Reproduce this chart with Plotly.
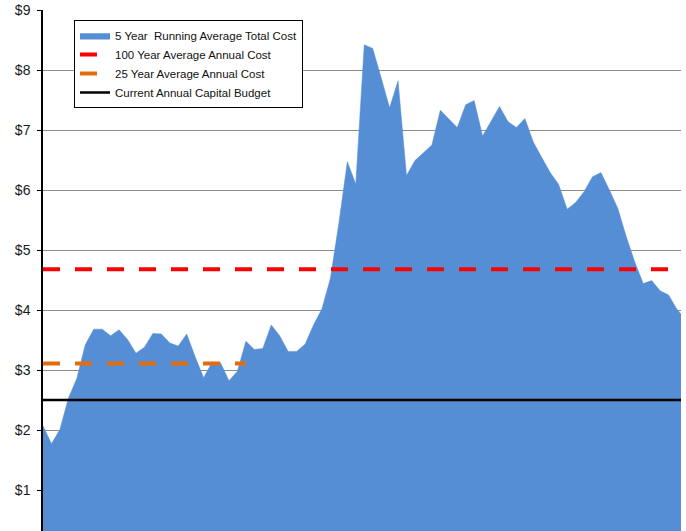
import plotly.graph_objects as go

# Year index along the horizontal axis
years = list(range(1, 78))

# 5-year running average of total cost ($ millions)
running_avg_cost = [
    2.07, 1.77, 2.01, 2.53, 2.86, 3.42, 3.68, 3.68, 3.57, 3.67,
    3.51, 3.28, 3.38, 3.61, 3.60, 3.45, 3.40, 3.60, 3.22, 2.87,
    3.13, 3.12, 2.82, 2.98, 3.48, 3.34, 3.36, 3.75, 3.57, 3.31,
    3.31, 3.43, 3.75, 4.02, 4.53, 5.45, 6.47, 6.10, 8.42, 8.36,
    7.87, 7.37, 7.82, 6.24, 6.49, 6.62, 6.75, 7.33, 7.18, 7.04,
    7.42, 7.49, 6.90, 7.15, 7.39, 7.14, 7.04, 7.19, 6.80, 6.54,
    6.29, 6.09, 5.68, 5.79, 5.97, 6.22, 6.29, 6.00, 5.69, 5.22,
    4.80, 4.44, 4.49, 4.32, 4.25, 4.01, 3.85,
]

avg_100_year = 4.68
avg_25_year = 3.11
annual_budget = 2.50

tick_values = [1, 2, 3, 4, 5, 6, 7, 8, 9]
tick_labels = ["$1", "$2", "$3", "$4", "$5", "$6", "$7", "$8", "$9"]

FONT = "Liberation Sans, Arial, sans-serif"

fig = go.Figure()

fig.add_trace(go.Scatter(
    x=years, y=running_avg_cost,
    name="5 Year  Running Average Total Cost",
    mode="lines", fill="tozeroy",
    line=dict(color="#558ED5", width=0.5),
    fillcolor="#558ED5",
))

fig.add_trace(go.Scatter(
    x=years, y=[avg_100_year] * len(years),
    name="100 Year Average Annual Cost",
    mode="lines",
    line=dict(color="#FF0000", width=4, dash="17px,15px"),
))

fig.add_trace(go.Scatter(
    x=years[:25], y=[avg_25_year] * 25,
    name="25 Year Average Annual Cost",
    mode="lines",
    line=dict(color="#E46C0A", width=4, dash="17px,15px"),
))

fig.add_trace(go.Scatter(
    x=years, y=[annual_budget] * len(years),
    name="Current Annual Capital Budget",
    mode="lines",
    line=dict(color="#000000", width=2.5),
))

fig.update_layout(
    width=686, height=531,
    margin=dict(l=43, r=5, t=10, b=0),
    paper_bgcolor="white", plot_bgcolor="white",
    font=dict(family=FONT, color="#1a1a1a"),
    showlegend=True,
    legend=dict(
        x=(74 - 43) / 638, y=(531 - 20) / 521,
        xanchor="left", yanchor="top",
        bgcolor="white", bordercolor="black", borderwidth=1,
        font=dict(family=FONT, size=11.5, color="#111111"),
        itemwidth=30,
        tracegroupgap=0,
    ),
)

fig.update_xaxes(
    range=[1, 76.47],
    showgrid=False, zeroline=False, showline=False,
    showticklabels=False, ticks="",
)

fig.update_yaxes(
    range=[9 - 521 / 60, 9],
    tickvals=tick_values, ticktext=tick_labels,
    tickfont=dict(family=FONT, size=14, color="#1a1a1a"),
    ticks="outside", ticklen=4, tickcolor="black", tickwidth=1,
    ticklabelstandoff=4,
    showgrid=True, gridcolor="#8c8c8c", gridwidth=1,
    zeroline=False,
    showline=True, linecolor="black", linewidth=1.5,
)

fig.write_html("out.html")
